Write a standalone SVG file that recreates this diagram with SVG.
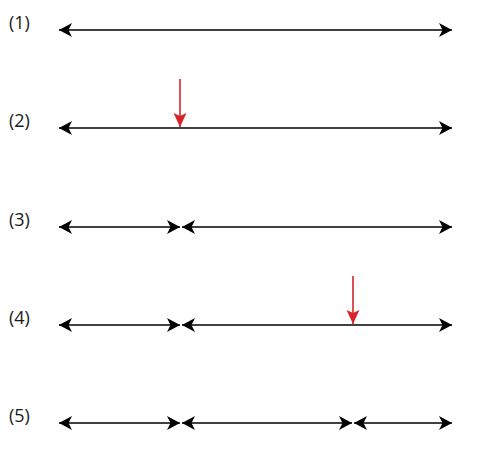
<svg xmlns="http://www.w3.org/2000/svg" width="480" height="451" viewBox="0 0 480 451">
<defs>
<marker id="ah" markerUnits="userSpaceOnUse" markerWidth="16" markerHeight="16" viewBox="-14 -8 16 16" refX="0" refY="0" orient="auto-start-reverse">
<path d="M0,0 L-13,-7 L-9.5,0 L-13,7 Z" fill="#000"/>
</marker>
<marker id="rh" markerUnits="userSpaceOnUse" markerWidth="16" markerHeight="16" viewBox="-14 -8 16 16" refX="0" refY="0" orient="auto">
<path d="M0,0 L-14,-6.5 L-11,0 L-14,6.5 Z" fill="#d9232a"/>
</marker>
<style>
.l{stroke:#000;stroke-width:1.6;fill:none;marker-start:url(#ah);marker-end:url(#ah)}
.r{stroke:#d9232a;stroke-width:1.6;fill:none;marker-end:url(#rh)}
.t{font-family:"Open Sans","Noto Sans",sans-serif;font-size:18px;fill:#1a1a1a}
</style>
</defs>
<g id="labels">
<text class="t" x="9" y="29">(1)</text>
<text class="t" x="9" y="127">(2)</text>
<text class="t" x="9" y="226">(3)</text>
<text class="t" x="9" y="324">(4)</text>
<text class="t" x="9" y="422">(5)</text>
</g>
<g id="connectors">
<line class="l" x1="59" y1="30" x2="452" y2="30"/>
<line class="l" x1="59" y1="128" x2="452" y2="128"/>
<line class="r" x1="180" y1="79" x2="180" y2="127"/>
<line class="l" x1="59" y1="227" x2="180" y2="227"/>
<line class="l" x1="182" y1="227" x2="452" y2="227"/>
<line class="l" x1="59" y1="325" x2="180" y2="325"/>
<line class="l" x1="182" y1="325" x2="452" y2="325"/>
<line class="r" x1="353" y1="276" x2="353" y2="324"/>
<line class="l" x1="59" y1="423" x2="180" y2="423"/>
<line class="l" x1="182" y1="423" x2="352" y2="423"/>
<line class="l" x1="354" y1="423" x2="452" y2="423"/>
</g>
</svg>
